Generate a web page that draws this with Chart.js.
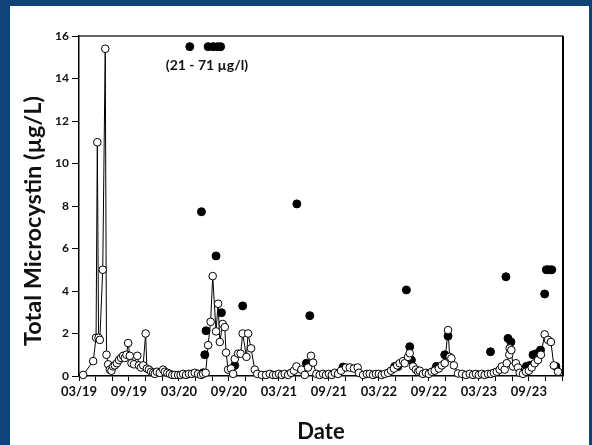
<!DOCTYPE html>
<html>
<head>
<meta charset="utf-8">
<script src="https://cdn.jsdelivr.net/npm/chart.js@4.4.1/dist/chart.umd.min.js"></script>
<style>
    html, body { margin: 0; padding: 0; background: #104478; }
    #panel { position: absolute; left: 10px; top: 6px; width: 579px; height: 439px; background: #fff; }
</style>
</head>
<body>
<div id="panel"><canvas id="mcChart" width="579" height="439"></canvas></div>
<script>
// x values are months since 03/2019 (0 = March 2019)
const openMonths = [
    0.5, 1.7, 2.05, 2.2, 2.35, 2.5, 2.85, 3.15, 3.3, 3.5, 3.7, 3.9, 4.1, 4.3, 4.55, 4.8, 5.05, 5.3, 5.5, 5.7,
    5.9, 6.1, 6.3, 6.6, 7.0, 7.2, 7.45, 7.7, 8.0, 8.15, 8.4, 8.65, 8.9, 9.1, 9.35, 9.7, 10.1, 10.3, 10.6, 10.9,
    11.2, 11.5, 11.9, 12.2, 12.5, 12.85, 13.2, 13.55, 13.9, 14.3, 14.65, 14.9, 15.2, 15.5, 15.8, 16.05, 16.45, 16.7, 16.9, 17.25,
    17.5, 17.65, 17.9, 18.25, 18.5, 18.7, 19.1, 19.4, 19.65, 20.1, 20.3, 20.65, 21.1, 21.4, 21.95, 22.45, 22.9, 23.3, 23.65, 24.0,
    24.35, 24.7, 25.1, 25.45, 25.8, 26.1, 26.7, 27.1, 27.5, 27.85, 28.1, 28.5, 28.9, 29.3, 29.65, 30.0, 30.35, 30.7, 31.1, 31.45,
    32.05, 32.5, 33.0, 33.45, 33.6, 34.1, 34.55, 34.9, 35.3, 35.65, 36.0, 36.35, 36.7, 37.1, 37.45, 37.8, 38.2, 38.5, 38.9, 39.1,
    39.5, 39.7, 40.1, 40.45, 40.7, 40.9, 41.3, 41.65, 42.0, 42.35, 42.7, 43.2, 43.55, 43.9, 44.3, 44.5, 44.7, 45.0, 45.5, 46.0,
    46.45, 46.9, 47.3, 47.65, 48.0, 48.35, 48.7, 49.1, 49.45, 49.8, 50.15, 50.5, 50.75, 51.1, 51.35, 51.65, 51.7, 51.9, 52.1, 52.45,
    52.7, 52.9, 53.3, 53.65, 54.0, 54.35, 54.7, 55.1, 55.45, 55.9, 56.3, 56.65, 57.0, 57.5
];
const openValues = [
    0.05, 0.7, 1.8, 11.0, 1.8, 1.7, 5.0, 15.4, 1.0, 0.55, 0.3, 0.25, 0.45, 0.5, 0.6, 0.75, 0.85, 0.95, 0.85, 1.0,
    1.55, 0.95, 0.6, 0.55, 0.95, 0.5, 0.4, 0.5, 2.0, 0.35, 0.3, 0.2, 0.15, 0.1, 0.2, 0.15, 0.3, 0.2, 0.15, 0.1,
    0.05, 0.05, 0.05, 0.05, 0.1, 0.05, 0.1, 0.1, 0.15, 0.1, 0.05, 0.1, 0.15, 1.45, 2.55, 4.7, 2.1, 3.4, 1.6, 2.45,
    2.3, 1.1, 0.3, 0.35, 0.1, 0.8, 1.05, 1.05, 2.0, 0.9, 2.0, 1.3, 0.3, 0.1, 0.05, 0.05, 0.1, 0.05, 0.05, 0.1,
    0.05, 0.1, 0.05, 0.15, 0.25, 0.45, 0.3, 0.05, 0.4, 0.95, 0.63, 0.1, 0.05, 0.1, 0.05, 0.1, 0.05, 0.15, 0.1, 0.25,
    0.4, 0.4, 0.35, 0.4, 0.15, 0.05, 0.1, 0.1, 0.05, 0.1, 0.1, 0.05, 0.1, 0.15, 0.25, 0.35, 0.5, 0.6, 0.7, 0.6,
    0.9, 1.07, 0.45, 0.3, 0.2, 0.25, 0.1, 0.15, 0.1, 0.2, 0.25, 0.35, 0.5, 0.6, 2.16, 0.9, 0.83, 0.5, 0.12, 0.1,
    0.05, 0.1, 0.05, 0.1, 0.05, 0.1, 0.05, 0.1, 0.1, 0.15, 0.2, 0.3, 0.45, 0.3, 0.6, 1.0, 1.3, 1.22, 0.45, 0.6,
    0.4, 0.15, 0.1, 0.2, 0.25, 0.4, 0.6, 0.75, 1.0, 1.96, 1.7, 1.6, 0.5, 0.2
];
// filled samples; the 15.5 points are off-scale (21 - 71 ug/l)
const filledMonths = [
    13.3, 14.7, 14.9, 15.1, 15.25, 15.5, 16.1, 16.6, 17.0, 16.45, 17.1, 18.7, 19.65, 26.15, 27.3, 27.7, 31.7, 37.9, 38.3, 39.3,
    39.7, 39.9, 42.9, 43.9, 44.3, 49.4, 51.25, 51.5, 51.85, 53.7, 54.1, 54.5, 54.9, 55.4, 55.9, 56.1, 56.4, 56.75, 57.25
];
const filledValues = [
    15.5, 7.73, 0.15, 1.0, 2.13, 15.5, 15.5, 15.5, 15.5, 5.65, 2.98, 0.5, 3.3, 8.1, 0.6, 2.84, 0.42, 0.45, 0.45, 4.05,
    1.38, 0.75, 0.45, 1.0, 1.88, 1.14, 4.67, 1.77, 1.6, 0.45, 0.5, 1.0, 1.05, 1.22, 3.86, 5.0, 5.0, 5.0, 0.45
];
const xTickLabels = ['03/19', '09/19', '03/20', '09/20', '03/21', '09/21', '03/22', '09/22', '03/23', '09/23'];
const yTicks = [0, 2, 4, 6, 8, 10, 12, 14, 16];
const noteText = '(21 - 71 \u00b5g/l)';

const fontName = 'Lato, "Open Sans", sans-serif';

function toPoints(xs, ys) {
    let pts = [];
    for (let i = 0; i < xs.length; i++) {
        pts.push({ x: xs[i], y: ys[i] });
    }
    return pts;
}

// frame, axis titles and the off-scale note
const extras = {
    id: 'extras',
    afterDraw(chart) {
        const ctx = chart.ctx;
        const a = chart.chartArea;
        const xs = chart.scales.x;
        const ys = chart.scales.y;
        ctx.save();
        ctx.strokeStyle = '#333';
        ctx.lineWidth = 1.5;
        ctx.beginPath();
        ctx.moveTo(a.left, a.top);
        ctx.lineTo(a.right, a.top);
        ctx.stroke();
        ctx.strokeStyle = '#000';
        ctx.lineWidth = 2;
        ctx.beginPath();
        ctx.moveTo(a.right, a.top);
        ctx.lineTo(a.right, a.bottom);
        ctx.stroke();

        ctx.fillStyle = '#111';
        ctx.textAlign = 'center';
        ctx.textBaseline = 'middle';
        ctx.font = 'bold 14px ' + fontName;
        ctx.fillText(noteText, xs.getPixelForValue(15.36), ys.getPixelForValue(14.63));

        ctx.font = 'bold 22px ' + fontName;
        ctx.fillText('Date', (a.left + a.right) / 2, 426);

        ctx.translate(23, 215);
        ctx.rotate(-Math.PI / 2);
        ctx.font = 'bold 23.5px ' + fontName;
        ctx.fillText('Total Microcystin (\u00b5g/L)', 0, 0);
        ctx.restore();
    }
};

const ctx = document.getElementById('mcChart').getContext('2d');
const chart = new Chart(ctx, {
    type: 'scatter',
    data: {
        datasets: [{
            label: 'open',
            data: toPoints(openMonths, openValues),
            showLine: true,
            borderColor: '#000',
            borderWidth: 1,
            pointRadius: 3.8,
            pointBackgroundColor: '#fff',
            pointBorderColor: '#000',
            pointBorderWidth: 1,
            clip: false
        }, {
            label: 'filled',
            data: toPoints(filledMonths, filledValues),
            showLine: false,
            pointRadius: 4,
            pointBackgroundColor: '#000',
            pointBorderColor: '#000',
            pointBorderWidth: 1,
            clip: false
        }]
    },
    options: {
        responsive: false,
        animation: false,
        layout: { padding: { left: 0, top: 30, right: 26, bottom: 0 } },
        plugins: {
            legend: { display: false },
            tooltip: { enabled: false }
        },
        scales: {
            x: {
                type: 'linear',
                min: 0,
                max: 58.1,
                afterFit: function (scale) { scale.height = 69; },
                border: { display: true, color: '#000', width: 1.5 },
                grid: { display: true, drawOnChartArea: false, tickLength: 5, color: '#000' },
                ticks: {
                    stepSize: 2,
                    autoSkip: false,
                    includeBounds: false,
                    maxRotation: 0,
                    padding: 3,
                    color: '#111',
                    font: { family: fontName, size: 13, weight: 'bold' },
                    callback: function (v) {
                        if (v % 6 !== 0) return '';
                        return xTickLabels[v / 6] || '';
                    }
                }
            },
            y: {
                min: 0,
                max: 16,
                afterFit: function (scale) { scale.width = 69; },
                afterBuildTicks: function (scale) {
                    scale.ticks = yTicks.map(v => ({ value: v }));
                },
                border: { display: true, color: '#000', width: 1.5 },
                grid: { display: true, drawOnChartArea: false, tickLength: 7, color: '#000' },
                ticks: {
                    padding: 3,
                    color: '#111',
                    font: { family: fontName, size: 12, weight: 'bold' }
                }
            }
        }
    },
    plugins: [extras]
});
</script>
</body>
</html>
